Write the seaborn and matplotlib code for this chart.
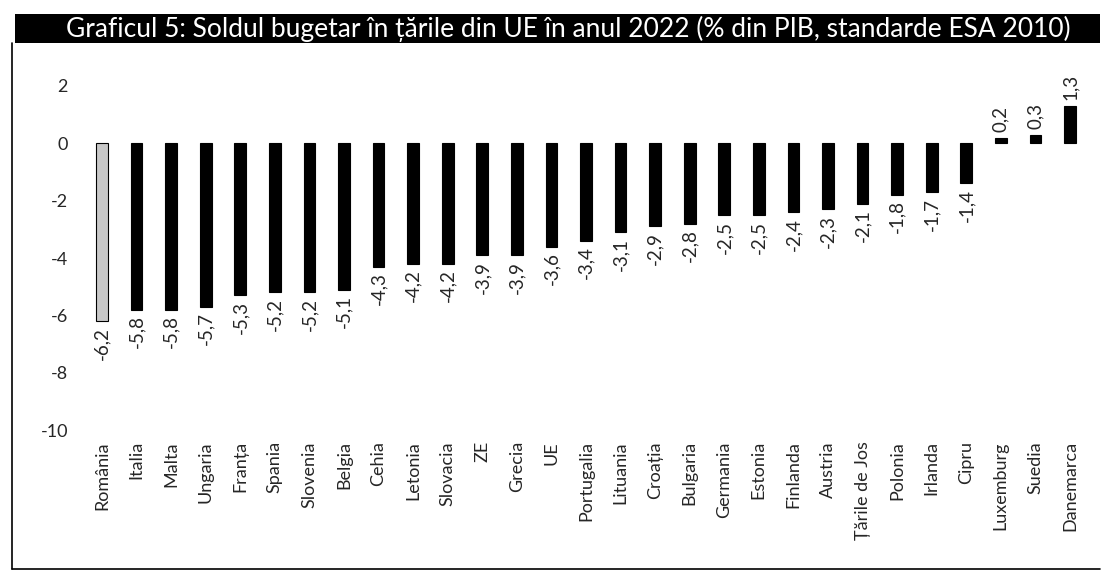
import matplotlib
matplotlib.use("Agg")
import matplotlib.pyplot as plt
import seaborn as sns
import pandas as pd
from matplotlib.patches import Rectangle
from matplotlib.lines import Line2D

categories = ["România", "Italia", "Malta", "Ungaria", "Franța", "Spania", "Slovenia",
              "Belgia", "Cehia", "Letonia", "Slovacia", "ZE", "Grecia", "UE", "Portugalia",
              "Lituania", "Croația", "Bulgaria", "Germania", "Estonia", "Finlanda", "Austria",
              "Țările de Jos", "Polonia", "Irlanda", "Cipru", "Luxemburg", "Suedia", "Danemarca"]
values = [-6.2, -5.8, -5.8, -5.7, -5.3, -5.2, -5.2, -5.1, -4.3, -4.2, -4.2, -3.9, -3.9, -3.6,
          -3.4, -3.1, -2.9, -2.8, -2.5, -2.5, -2.4, -2.3, -2.1, -1.8, -1.7, -1.4, 0.2, 0.3, 1.3]
yticks = [-10, -8, -6, -4, -2, 0, 2]
title = "Graficul 5: Soldul bugetar în țările din UE în anul 2022 (% din PIB, standarde ESA 2010)"

sns.set_theme(style="white")
plt.rcParams['font.family'] = ['Lato', 'DejaVu Sans']

df = pd.DataFrame({"cat": categories, "val": values})
colors = ["#c8c8c8" if c == "România" else "black" for c in categories]

fig = plt.figure(figsize=(11.13, 5.79), dpi=100)
ax = fig.add_axes([0.0761, 0.2573, 0.9008, 0.5942])

sns.barplot(data=df, x="cat", y="val", hue="cat", palette=colors, legend=False,
            width=0.34, ax=ax, edgecolor="black", linewidth=0.8, saturation=1)

ax.set_ylim(-10, 2)
ax.set_xlim(-0.5, len(categories) - 0.5)
ax.set_yticks(yticks)
ax.set_yticklabels([str(t) for t in yticks], fontsize=13)
ax.tick_params(axis='y', length=0, pad=12)
ax.tick_params(axis='x', length=0, pad=8)
ax.set_xticks(range(len(categories)))
ax.set_xticklabels(categories, rotation=90, fontsize=13)
ax.set_xlabel("")
ax.set_ylabel("")
for s in ax.spines.values():
    s.set_visible(False)

labels = [f"{v:.1f}".replace(".", ",") for v in values]
for i, cont in enumerate(ax.containers):
    ax.bar_label(cont, labels=[labels[i]] * len(cont), rotation=90,
                 padding=4, fontsize=13.5)

# title bar
fig.patches.append(Rectangle((15 / 1113, 1 - 43 / 579), (1100 - 15) / 1113, 29 / 579,
                             transform=fig.transFigure, facecolor="black", edgecolor="none"))
fig.text(66 / 1113, 1 - 28.5 / 579, title, color="white", fontsize=19, va="center", ha="left")

# frame
fig.lines.append(Line2D([12 / 1113, 12 / 1113], [1 - 43 / 579, 1 - 569 / 579],
                        transform=fig.transFigure, color="black", linewidth=1.2))
fig.lines.append(Line2D([12 / 1113, 1100 / 1113], [1 - 569 / 579, 1 - 569 / 579],
                        transform=fig.transFigure, color="black", linewidth=1.2))

fig.savefig("out.png", dpi=100)
